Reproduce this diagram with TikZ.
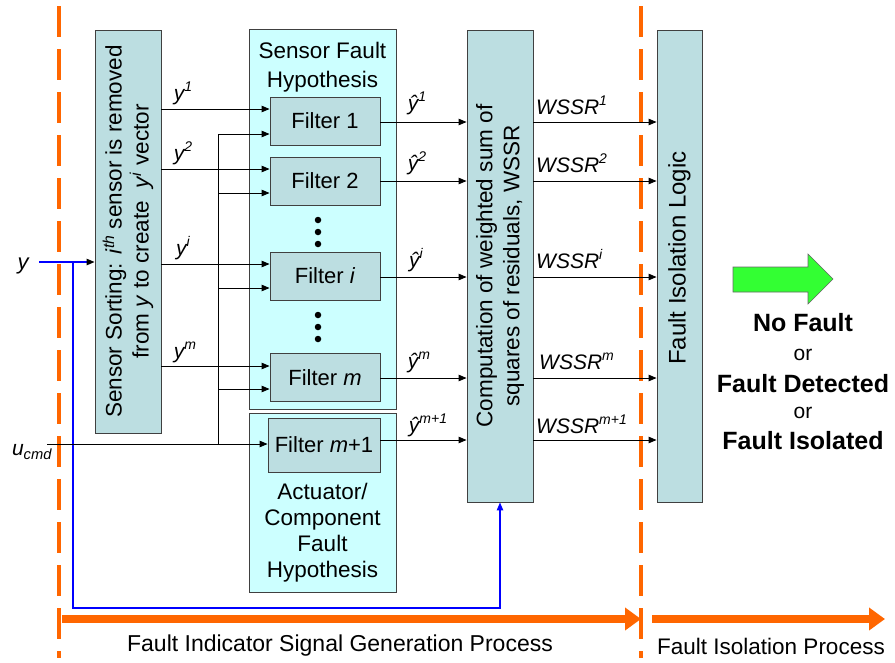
\documentclass[tikz,border=0pt]{standalone}
\usepackage{fontspec}
\setmainfont{Liberation Sans}
\usetikzlibrary{arrows.meta,calc}
\definecolor{boxfill}{HTML}{BCDEE1}
\definecolor{hypfill}{HTML}{CCFFFF}
\definecolor{orng}{HTML}{FF6600}
\definecolor{grn}{HTML}{33FF33}
\newcommand{\mysup}[1]{\raisebox{0.42em}{\fontsize{14}{14}\selectfont #1}}
\begin{document}
\begin{tikzpicture}[x=1pt,y=-1pt,
  box/.style={draw=black!75, line width=0.9pt, fill=boxfill, inner sep=0pt},
  hyp/.style={draw=black!75, line width=0.9pt, fill=hypfill, inner sep=0pt},
  filt/.style={box, minimum width=110pt, minimum height=48pt, font=\fontsize{22}{26}\selectfont},
  txt/.style={inner sep=0pt, align=center, font=\fontsize{22.5}{27}\selectfont},
  lbl/.style={inner sep=0pt, font=\fontsize{21}{24}\selectfont\itshape},
  wire/.style={line width=0.9pt, -{Triangle[length=8pt,width=6.5pt]}},
  plain/.style={line width=0.9pt},
  bluewire/.style={blue, line width=1.1pt},
  orngdash/.style={orng, line width=4pt, dash pattern=on 31pt off 12pt},
  orngarrow/.style={orng, line width=8pt, -{Triangle[length=16pt,width=22pt]}},
  dotnode/.style={circle, fill=black, inner sep=0pt, minimum size=6.5pt},
  outtxt/.style={inner sep=0pt, font=\fontsize{25}{30}\selectfont\bfseries},
  ortxt/.style={inner sep=0pt, font=\fontsize{21}{25}\selectfont}
]
\useasboundingbox (0,0) rectangle (895,662);

% process dividers
\coordinate (d1t) at (59,6);
\coordinate (d1b) at (59,658);
\coordinate (d2t) at (641,6);
\coordinate (d2b) at (641,658);
\draw[orngdash] (d1t) -- (d1b);
\draw[orngdash] (d2t) -- (d2b);

% background hypothesis boxes
\node[hyp, minimum width=147pt, minimum height=380pt] (shyp) at (322.5,219) {};
\node[hyp, minimum width=147pt, minimum height=179pt] (ahyp) at (322.5,502.5) {};
\node[txt, font=\fontsize{22.5}{29}\selectfont] (shyptxt) at (322.5,67) {Sensor Fault\\Hypothesis};
\node[txt, font=\fontsize{22.5}{26}\selectfont] (ahyptxt) at (322.5,533) {Actuator/\\Component\\Fault\\Hypothesis};

% main boxes
\node[box, minimum width=66pt, minimum height=403pt] (sort) at (128,231.5) {};
\node[txt, rotate=90] (sorttxt) at (sort.center) {Sensor Sorting: \textit{i}\textsuperscript{\textit{th}} sensor is removed\\from \textit{y} to create \ \textit{y}\textsuperscript{\textit{i}} vector};
\node[box, minimum width=66pt, minimum height=472pt] (comp) at (500,266) {};
\node[txt, rotate=90] (comptxt) at (comp.center) {Computation of weighted sum of\\squares of residuals, WSSR};
\node[box, minimum width=45pt, minimum height=472pt] (fil) at (679.5,266) {};
\node[txt, rotate=90, font=\fontsize{24}{28}\selectfont] (filtxt) at (679.5,258) {Fault Isolation Logic};

% filters
\node[filt] (f1) at (325,121) {Filter 1};
\node[filt] (f2) at (325,181) {Filter 2};
\node[filt] (fi) at (325,276) {Filter \textit{i}};
\node[filt] (fm) at (325,377.5) {Filter \textit{m}};
\node[filt, minimum width=112pt, minimum height=54pt] (fm1) at (324,445) {Filter \textit{m}+1};

% dots
\node[dotnode] (da1) at (318,220) {};
\node[dotnode] (da2) at (318,232) {};
\node[dotnode] (da3) at (318,244) {};
\node[dotnode] (db1) at (318,315) {};
\node[dotnode] (db2) at (318,327) {};
\node[dotnode] (db3) at (318,339) {};

% row levels
\coordinate (r1) at (0,109);
\coordinate (r2) at (0,169);
\coordinate (ri) at (0,264);
\coordinate (rm) at (0,366);
\coordinate (ru) at (0,444);
\coordinate (q1) at (0,134);
\coordinate (q2) at (0,193);
\coordinate (qi) at (0,288);
\coordinate (qm) at (0,389);
\coordinate (o1) at (0,122);
\coordinate (o2) at (0,181);
\coordinate (oi) at (0,277);
\coordinate (om) at (0,378);
\coordinate (omm) at (0,440);

% inputs
\node[lbl, font=\fontsize{22}{24}\selectfont\itshape] (yin) at (23,266) {y};
\node[lbl] (uin) at (32,452) {u\textsubscript{cmd}};
\coordinate (jy) at (73,262);
\coordinate (ys) at (39,262);
\coordinate (ucs) at (47,444);

\draw[bluewire, -{Triangle[length=8pt,width=6.5pt,color=black]}] (ys) -- (sort.west |- jy);
\coordinate (bl1) at (73,608);
\coordinate (bl2) at (500,608);
\draw[bluewire, -{Triangle[length=8pt,width=6.5pt]}] (jy) -- (bl1) -- (bl2) -- (comp.south);

% sorted outputs
\draw[wire] (sort.east |- r1) -- (f1.west |- r1);
\draw[wire] (sort.east |- r2) -- (f2.west |- r2);
\draw[wire] (sort.east |- ri) -- (fi.west |- ri);
\draw[wire] (sort.east |- rm) -- (fm.west |- rm);
\draw[wire] (ucs) -- (fm1.west |- ru);

% command bus
\coordinate (bt) at (218,134);
\coordinate (bb) at (218,444);
\draw[plain] (bt) -- (bb);
\draw[wire] (bt) -- (f1.west |- q1);
\draw[wire] (bt |- q2) -- (f2.west |- q2);
\draw[wire] (bt |- qi) -- (fi.west |- qi);
\draw[wire] (bt |- qm) -- (fm.west |- qm);

\node[lbl] (ly1) at (183,93) {y\mysup{1}};
\node[lbl] (ly2) at (183,153) {y\mysup{2}};
\node[lbl] (lyi) at (183,248) {y\mysup{i}};
\node[lbl] (lym) at (185,352) {y\mysup{m}};

% filter outputs
\draw[wire] (f1.east |- o1) -- (comp.west |- o1);
\draw[wire] (f2.east |- o2) -- (comp.west |- o2);
\draw[wire] (fi.east |- oi) -- (comp.west |- oi);
\draw[wire] (fm.east |- om) -- (comp.west |- om);
\draw[wire] (fm1.east |- omm) -- (comp.west |- omm);

\node[lbl] (lh1) at (417,103) {ŷ\mysup{1}};
\node[lbl] (lh2) at (417,163) {ŷ\mysup{2}};
\node[lbl] (lhi) at (416,260) {ŷ\mysup{i}};
\node[lbl] (lhm) at (419,362) {ŷ\mysup{m}};
\node[lbl] (lhm1) at (428,425) {ŷ\mysup{m+1}};

% WSSR outputs
\draw[wire] (comp.east |- o1) -- (fil.west |- o1);
\draw[wire] (comp.east |- o2) -- (fil.west |- o2);
\draw[wire] (comp.east |- oi) -- (fil.west |- oi);
\draw[wire] (comp.east |- om) -- (fil.west |- om);
\draw[wire] (comp.east |- omm) -- (fil.west |- omm);

\node[lbl, anchor=west] (w1) at (536,105) {WSSR\mysup{1}};
\node[lbl, anchor=west] (w2) at (536,163) {WSSR\mysup{2}};
\node[lbl, anchor=west] (wi) at (536,259) {WSSR\mysup{i}};
\node[lbl, anchor=west] (wm) at (539,361) {WSSR\mysup{m}};
\node[lbl, anchor=west] (wm1) at (536,424) {WSSR\mysup{m+1}};

% green result arrow
\draw[black!60, line width=0.6pt, fill=grn] (733,267) -- (808,267) -- (808,254) -- (833,279) -- (808,304) -- (808,292) -- (733,292) -- cycle;

\node[outtxt] (nofault) at (803,323) {No Fault};
\node[ortxt] (or1) at (803,355) {or};
\node[outtxt] (fdet) at (803,384) {Fault Detected};
\node[ortxt] (or2) at (803,413) {or};
\node[outtxt] (fiso) at (803,441) {Fault Isolated};

% process arrows
\coordinate (pa1s) at (62,619);
\coordinate (pa1e) at (641,619);
\coordinate (pa2s) at (652,619);
\coordinate (pa2e) at (885,619);
\draw[orngarrow] (pa1s) -- (pa1e);
\draw[orngarrow] (pa2s) -- (pa2e);
\node[txt, font=\fontsize{23}{27}\selectfont] (p1) at (340,646) {Fault Indicator Signal Generation Process};
\node[txt] (p2) at (771,646) {Fault Isolation Process};
\end{tikzpicture}
\end{document}
